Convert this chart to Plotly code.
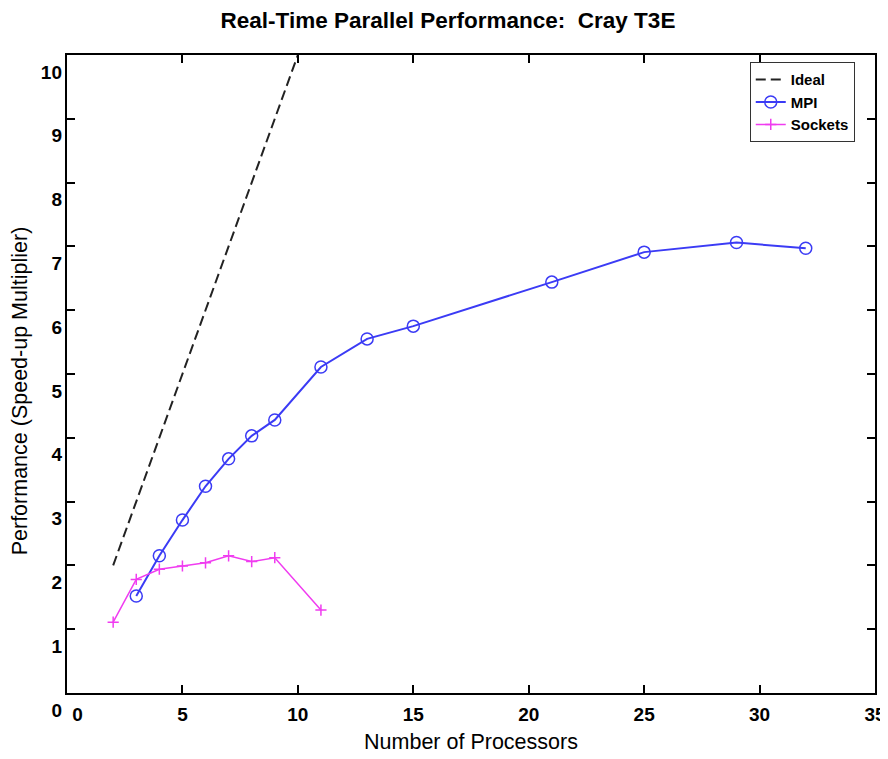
import plotly.graph_objects as go

# ---- data ----
ideal_procs = [2, 32]
ideal_speedup = [2, 32]

mpi_procs = [3, 4, 5, 6, 7, 8, 9, 11, 13, 15, 21, 25, 29, 32]
mpi_speedup = [1.52, 2.15, 2.71, 3.24, 3.67, 4.03, 4.28, 5.11, 5.55, 5.75, 6.44, 6.91, 7.06, 6.97]

sock_procs = [2, 3, 4, 5, 6, 7, 8, 9, 11]
sock_speedup = [1.11, 1.78, 1.94, 1.99, 2.04, 2.15, 2.06, 2.12, 1.30]

x_ticks = [0, 5, 10, 15, 20, 25, 30, 35]
x_tick_labels = ["\u00a0\u00a0\u00a0\u00a00", "5", "10", "15", "20", "25", "30", "35"]
y_ticks = [0, 1, 2, 3, 4, 5, 6, 7, 8, 9, 10]

FONT = "Liberation Sans, Arial, sans-serif"

fig = go.Figure()
fig.add_trace(go.Scatter(x=ideal_procs, y=ideal_speedup, mode="lines", name="Ideal",
                         line=dict(color="#222222", width=2, dash="10px,5px")))
fig.add_trace(go.Scatter(x=mpi_procs, y=mpi_speedup, mode="lines+markers", name="MPI",
                         line=dict(color="#3b3bf5", width=2),
                         marker=dict(symbol="circle-open", size=12, color="#3b3bf5",
                                     line=dict(width=1.5, color="#3b3bf5"))))
fig.add_trace(go.Scatter(x=sock_procs, y=sock_speedup, mode="lines+markers", name="Sockets",
                         line=dict(color="#f03cf0", width=1.5),
                         marker=dict(symbol="cross-thin-open", size=8, color="#f03cf0",
                                     line=dict(width=1.5, color="#f03cf0"))))
# invisible helper trace so the offset label axis is rendered
fig.add_trace(go.Scatter(x=[0, 0], y=[y_ticks[0], y_ticks[-1]], yaxis="y2", mode="lines",
                         line=dict(width=0), opacity=0, showlegend=False, hoverinfo="skip"))

H = 751
fig.update_layout(
    width=880, height=H,
    margin=dict(l=59, r=13, t=47, b=H - 47 - 655, autoexpand=False),
    paper_bgcolor="white", plot_bgcolor="rgba(0,0,0,0)",
    font=dict(family=FONT, color="black"),
    title=dict(text="Real-Time Parallel Performance:  Cray T3E",
               x=0.5, xanchor="center", y=1 - 12 / H, yanchor="middle",
               font=dict(size=22.5, family=FONT, weight="bold")),
    showlegend=True,
    legend=dict(x=0.845, y=0.989, xanchor="left", yanchor="top",
                bgcolor="white", bordercolor="#333333", borderwidth=1,
                font=dict(size=15, family=FONT, color="black", weight="bold"),
                itemwidth=30, tracegroupgap=0),
    xaxis=dict(range=[0, 35], tickvals=x_ticks, ticktext=x_tick_labels,
               ticks="inside", ticklen=8, tickwidth=1.5, tickcolor="black",
               showline=True, linecolor="black", linewidth=2, mirror="ticks",
               showgrid=False, zeroline=False, anchor="y", automargin=True,
               tickfont=dict(size=19, family=FONT, weight="bold"), ticklabelstandoff=3,
               title=dict(text="Number of Processors", font=dict(size=21.5, family=FONT), standoff=10)),
    yaxis=dict(range=[0, 10], domain=[0.026, 1], tickvals=y_ticks, showticklabels=False,
               ticks="inside", ticklen=8, tickwidth=1.5, tickcolor="black",
               showline=True, linecolor="black", linewidth=2, mirror="ticks",
               showgrid=False, zeroline=False, automargin=False),
    yaxis2=dict(range=[0, 10], domain=[0, 0.974], anchor="free", position=0,
                tickvals=y_ticks, automargin=False,
                ticks="", showline=False, showgrid=False, zeroline=False,
                tickfont=dict(size=19, family=FONT, weight="bold"), ticklabelstandoff=5,
                title=dict(text="Performance (Speed-up Multiplier)",
                           font=dict(size=21.5, family=FONT), standoff=8)),
)

fig.write_html("out.html")
